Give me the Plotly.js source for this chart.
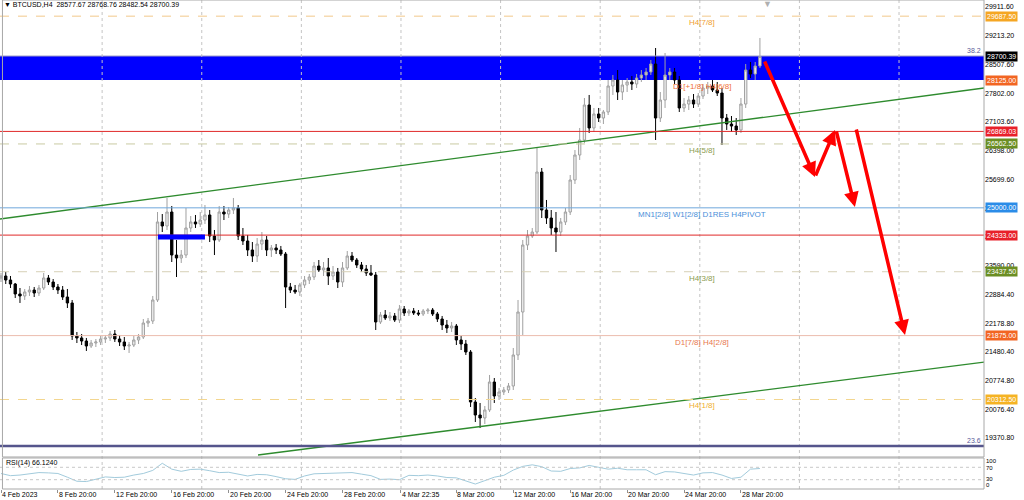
<!DOCTYPE html>
<html><head><meta charset="utf-8">
<script src="https://cdn.plot.ly/plotly-3.0.1.min.js"></script>
<style>html,body{margin:0;padding:0;background:#fff}#chart{width:1024px;height:500px}</style>
</head><body><div id="chart"></div>
<script>
// ---- Data (BTCUSD, candles of 8h) ----
const startTime = Date.UTC(2023, 1, 4, 20, 0);
const stepHours = 8;
const openP = [23284,23333,23235,23137,22893,22844,22942,22990,22917,23039,
23284,23186,23064,22990,22819,22673,21865,21817,21743,21621,
21694,21719,21792,21817,21914,21792,21719,21621,21645,21768,
21841,22183,22232,22746,24654,24556,24898,23846,23773,23846,
24507,24654,24605,24702,24825,24311,24213,24898,24849,24947,
24996,24311,24189,23969,23822,24115,24213,23969,24018,23969,
23871,23064,22990,22942,23113,23235,23308,23577,23480,23529,
23333,23431,23186,23529,23822,23724,23602,23504,23406,23357,
22208,22379,22306,22355,22257,22526,22428,22477,22428,22404,
22477,22501,22404,22281,22134,22061,22110,21768,21670,21474,
20251,19933,19860,20056,20740,20398,20496,20545,20643,21401,
22452,24091,24311,24409,25876,24947,24751,24507,24409,24654,
24898,25681,26292,26659,27515,26953,27295,27197,27344,27980,
28126,27833,28004,28078,28029,28175,28249,28322,28518,27197,
27637,28249,28322,28126,27442,27539,27637,27539,27735,27931,
27980,27882,27808,27197,27050,27001,26904,27539,28371,28273,
28469];
const highP = [23406,23431,23333,23162,23039,23015,23088,23064,23113,23406,
23357,23259,23137,23088,23015,22746,21963,21914,21817,21768,
21792,21865,21890,21988,22012,21890,21841,21719,21865,21914,
22281,22306,22844,24898,24849,25241,25045,24213,23969,24996,
24800,24825,24898,25069,24947,24458,25045,25045,25020,25241,
25069,24507,24336,24164,24262,24409,24311,24091,24115,24067,
23920,23162,23113,23162,23333,23382,23675,23724,23675,23773,
23577,23529,23675,23944,23920,23773,23675,23602,23602,23431,
22452,22501,22452,22428,22624,22599,22526,22550,22501,22526,
22550,22550,22452,22355,22257,22208,22159,21865,21768,21523,
20349,20227,20153,20912,20838,20594,20618,20716,21572,22746,
24213,24458,24507,26488,25974,25192,24947,24898,24751,24996,
25803,26414,26953,27686,27760,27442,27442,27393,28126,28249,
28371,28126,28175,28224,28273,28371,28420,28616,28909,27833,
28787,28420,28420,28224,27686,27735,27784,27808,28029,28078,
28126,28078,27931,27295,27246,27197,27686,28518,28567,28567,
29154];
const lowP = [23186,23137,23039,22795,22673,22746,22844,22819,22844,22990,
23113,22990,22893,22746,22550,21768,21694,21645,21499,21572,
21596,21645,21694,21743,21719,21621,21523,21450,21596,21670,
21792,22086,22159,22697,24409,24458,23675,23308,23651,23773,
24409,24507,24531,24605,24164,23846,24164,24702,24751,24849,
24213,24091,23822,23675,23675,23969,23822,23798,23871,23822,
22550,22917,22893,22844,23039,23137,23235,23431,23333,23113,
23235,23039,23064,23480,23675,23529,23431,23333,23333,22012,
22159,22257,22232,22208,22183,22355,22355,22379,22355,22355,
22404,22355,22208,22012,21939,21963,21645,21523,21401,20129,
19762,19615,19713,20007,20227,20300,20422,20471,20545,21278,
21890,23969,24262,24360,24751,24605,24336,23920,24311,24580,
24825,25583,26170,26586,26830,26855,27099,27050,27270,27760,
27637,27637,27833,27882,27931,28078,28126,28249,26659,27099,
27442,28126,28029,27344,27344,27393,27442,27466,27662,27784,
27833,27735,26537,26904,26855,26781,26830,27442,28175,28126,
28420];
const closeP = [23333,23235,23137,22893,22844,22942,22990,22917,23039,23284,
23186,23064,22990,22819,22673,21865,21817,21743,21621,21694,
21719,21792,21817,21914,21792,21719,21621,21645,21768,21841,
22183,22232,22746,24654,24556,24898,23846,23773,23846,24507,
24654,24605,24702,24825,24311,24213,24898,24849,24947,24996,
24311,24189,23969,23822,24115,24213,23969,24018,23969,23871,
23064,22990,22942,23113,23235,23308,23577,23480,23529,23333,
23431,23186,23529,23822,23724,23602,23504,23406,23357,22208,
22379,22306,22355,22257,22526,22428,22477,22428,22404,22477,
22501,22404,22281,22134,22061,22110,21768,21670,21474,20251,
19933,19860,20056,20740,20398,20496,20545,20643,21401,22452,
24091,24311,24409,25876,24947,24751,24507,24409,24654,24898,
25681,26292,26659,27515,26953,27295,27197,27344,27980,28126,
27833,28004,28078,28029,28175,28249,28322,28518,27197,27637,
28249,28322,28126,27442,27539,27637,27539,27735,27931,27980,
27882,27808,27197,27050,27001,26904,27539,28371,28273,28469,
28700.39];
const lastBar = [28577.67, 28768.76, 28482.54, 28700.39];

// RSI(14) read every second candle
const rsiVals = [50,43,45,48,53,52,50,38,25,24,31,39,37,38,45,50,60,83,64,57,
63,64,59,53,54,47,42,47,46,40,33,31,42,49,50,49,51,53,48,43,
31,32,30,44,43,45,42,37,36,27,16,27,38,44,61,73,78,72,58,57,
66,68,76,70,64,67,62,62,62,46,56,55,50,45,52,53,45,34,38,64,66.124];
const rsiLevelLabels = ['100','70','30','0'];

// Horizontal levels
const levelPrices = [29687.5, 26869.03, 26562.5, 25000, 24333, 23437.5, 21875, 20312.5];
const levelLineColors = ['#f2c88a','#e02828','#c9caa2','#6fa8dc','#e02828','#d6d0b6','#ecbcae','#f3d68e'];
const levelDash = ['dash','solid','dash','solid','solid','dash','solid','dash'];

const priceTags = [29687.5, 28700.39, 28125, 26869.03, 26562.5, 25000, 24333, 23437.5, 21875, 20312.5];
const priceTagColors = ['#f5a623','#000000','#f26522','#e8202a','#6b8e23','#2b8ce8','#e8202a','#6b8e23','#f26522','#f5b324'];

const mmTexts = ['H4[7/8]','D1[+1/8] H4[6/8]','H4[5/8]','MN1[2/8] W1[2/8] D1RES H4PIVOT','H4[3/8]','D1[7/8] H4[2/8]','H4[1/8]'];
const mmPrices = [29687.5, 28125, 26562.5, 25000, 23437.5, 21875, 20312.5];
const mmColors = ['#f0a030','#f07038','#8c9c50','#4a90d9','#8c9c50','#e87850','#f0b030'];
const mmTextTime = '2023-03-26 02:00';

const zonePrices = [28125, 28713];
const fiboPrices = [28713, 19175];
const fiboTexts = ['38.2','23.6'];
const supportBarTimes = ['2023-02-15 20:40', '2023-02-19 04:00'];
const supportBarPrices = [24225, 24345];

const upperTrendTimes = ['2023-02-04 18:19', '2023-04-14 21:55'];
const upperTrendPrices = [24727, 27931];
const lowerTrendTimes = ['2023-02-22 21:26', '2023-04-14 21:55'];
const lowerTrendPrices = [18955, 21229];

// projected path (arrows): [fromTime, fromPrice, toTime, toPrice]
const projection = [
  ['2023-03-30 10:53', 28616, '2023-04-03 00:48', 25754],
  ['2023-04-03 00:48', 25754, '2023-04-04 10:36', 26904],
  ['2023-04-04 12:19', 26904, '2023-04-05 20:14', 25020],
  ['2023-04-05 21:55', 26953, '2023-04-09 08:43', 21890]
];

const yTicks = [29911.6, 29213.2, 28507.6, 27802.0, 27103.6, 26398.0, 25699.6, 24994.0, 24288.4, 23590.0, 22884.4, 22178.8, 21480.4, 20774.8, 20076.4, 19370.8];
const xLabelTimes = ['2023-02-04 20:00','2023-02-08 20:00','2023-02-12 20:00','2023-02-16 20:00','2023-02-20 20:00','2023-02-24 20:00','2023-02-28 20:00','2023-03-04 22:35','2023-03-08 20:00','2023-03-12 20:00','2023-03-16 20:00','2023-03-20 20:00','2023-03-24 20:00','2023-03-28 20:00'];
const xLabelTexts = ['4 Feb 2023','8 Feb 20:00','12 Feb 20:00','16 Feb 20:00','20 Feb 20:00','24 Feb 20:00','28 Feb 20:00','4 Mar 22:35','8 Mar 20:00','12 Mar 20:00','16 Mar 20:00','20 Mar 20:00','24 Mar 20:00','28 Mar 20:00'];
const gridTimes = ['2023-02-11 22:35','2023-02-18 22:35','2023-02-25 22:35','2023-03-04 22:35','2023-03-11 22:35','2023-03-18 22:35','2023-03-25 22:35','2023-04-01 22:35','2023-04-08 22:35'];
const xRange = ['2023-02-04 18:19', '2023-04-14 21:55'];
const yRange = [18906, 30083];

// ---- Build ----
const fmt = ms => new Date(ms).toISOString().slice(0,16).replace('T',' ');
const times = openP.map((_, i) => fmt(startTime + i * stepHours * 3600000));
const rsiTimes = rsiVals.map((_, k) => times[2 * k]);

const FONT = 'Liberation Sans, Arial, sans-serif';
const mainBottom = 0.06544, rsiTop = 0.0634;

const traces = [
  {type:'scatter', mode:'lines', x: upperTrendTimes, y: upperTrendPrices, xaxis:'x', yaxis:'y',
   line:{color:'#2e8b2e', width:1.3}, hoverinfo:'skip'},
  {type:'scatter', mode:'lines', x: lowerTrendTimes, y: lowerTrendPrices, xaxis:'x', yaxis:'y',
   line:{color:'#2e8b2e', width:1.3}, hoverinfo:'skip'},
  {type:'candlestick', x: times, open: openP, high: highP, low: lowP, close: closeP,
   xaxis:'x', yaxis:'y', whiskerwidth:0,
   increasing:{line:{color:'#a0a0a0', width:1}, fillcolor:'#f0f0f0'},
   decreasing:{line:{color:'#000000', width:1}, fillcolor:'#000000'},
   hoverinfo:'skip'},
  {type:'scatter', mode:'lines', x: rsiTimes, y: rsiVals, xaxis:'x', yaxis:'y2',
   line:{color:'#a2cbdc', width:1}, hoverinfo:'skip'}
];

const shapes = [];
shapes.push({type:'rect', xref:'paper', x0:0, x1:1, yref:'y', y0:zonePrices[0], y1:zonePrices[1],
  fillcolor:'#0000ff', line:{width:0}, layer:'below'});
gridTimes.forEach(t => shapes.push({type:'line', xref:'x', x0:t, x1:t, yref:'paper', y0:0, y1:1,
  line:{color:'#c4c4c4', width:1, dash:'dot'}, layer:'below'}));
levelPrices.forEach((p, i) => shapes.push({type:'line', xref:'paper', x0:0, x1:1, yref:'y', y0:p, y1:p,
  line:{color:levelLineColors[i], width:1, dash:levelDash[i]}}));
shapes.push({type:'line', xref:'paper', x0:0, x1:1, yref:'y', y0:fiboPrices[0], y1:fiboPrices[0], line:{color:'#9a9ac8', width:1}});
shapes.push({type:'line', xref:'paper', x0:0, x1:1, yref:'y', y0:fiboPrices[1], y1:fiboPrices[1], line:{color:'#55558c', width:2.5}});
shapes.push({type:'rect', xref:'x', x0:supportBarTimes[0], x1:supportBarTimes[1], yref:'y', y0:supportBarPrices[0], y1:supportBarPrices[1],
  fillcolor:'#0000ff', line:{width:0}});
[70, 30].forEach(v => shapes.push({type:'line', xref:'paper', x0:0, x1:1, yref:'y2', y0:v, y1:v,
  line:{color:'#c8c8c8', width:1, dash:'dot'}}));
shapes.push({type:'rect', xref:'paper', x0:0.0025, x1:1, yref:'paper', y0:mainBottom, y1:1, line:{color:'#a8a8a8', width:1}});
shapes.push({type:'rect', xref:'paper', x0:0.0025, x1:1, yref:'paper', y0:0, y1:rsiTop, line:{color:'#a8a8a8', width:1}});

const ann = [];
ann.push({xref:'paper', yref:'paper', x:0.002, y:0.99, xanchor:'left', yanchor:'middle', showarrow:false,
  text:'▼ BTCUSD,H4  ' + lastBar.map(v => v.toFixed(2)).join(' '), font:{family:FONT, size:7, color:'#000'}});
ann.push({xref:'paper', yref:'paper', x:0.7795, y:1.006, xanchor:'center', yanchor:'top', showarrow:false,
  text:'▼', font:{family:FONT, size:9, color:'#b0b0b0'}});
mmTexts.forEach((t, i) => ann.push({xref:'x', yref:'y', x:mmTextTime, y:mmPrices[i], xanchor:'center', yanchor:'top',
  showarrow:false, text:t, font:{family:FONT, size:8, color:mmColors[i]}}));
fiboTexts.forEach((t, i) => ann.push({xref:'paper', yref:'y', x:0.999, y:fiboPrices[i], xanchor:'right', yanchor:'bottom',
  showarrow:false, text:t, font:{family:FONT, size:7, color:'#5a5a9a'}}));
priceTags.forEach((p, i) => ann.push({xref:'paper', yref:'y', x:1, y:p, xanchor:'left', yanchor:'middle', xshift:1,
  showarrow:false, text:p.toFixed(2), bgcolor:priceTagColors[i], borderpad:1,
  font:{family:FONT, size:7, color:'#ffffff'}}));
xLabelTimes.forEach((t, i) => ann.push({xref:'x', yref:'paper', x:t, y:-0.0105, xanchor:'left', yanchor:'middle', xshift:-1,
  showarrow:false, text:xLabelTexts[i], font:{family:FONT, size:7, color:'#000'}}));
ann.push({xref:'paper', yref:'paper', x:0.004, y:0.0532, xanchor:'left', yanchor:'middle', showarrow:false,
  text:'RSI(14) ' + rsiVals[rsiVals.length-1].toFixed(4), font:{family:FONT, size:7, color:'#000'}});
const rsiLabelY = [0.0565, 0.0430, 0.0205, 0.0075];
rsiLevelLabels.forEach((t, i) => ann.push({xref:'paper', yref:'paper', x:1, y:rsiLabelY[i],
  xanchor:'left', yanchor:'middle', xshift:1, borderpad:0, showarrow:false, text:t, font:{family:FONT, size:6, color:'#000'}}));
projection.forEach(s => ann.push({xref:'x', yref:'y', axref:'x', ayref:'y', x:s[2], y:s[3], ax:s[0], ay:s[1],
  showarrow:true, text:'', arrowhead:2, arrowsize:0.85, arrowwidth:3.5, arrowcolor:'#ff0000', standoff:0}));

const layout = {
  width:1024, height:500,
  margin:{l:0, r:40, t:0, b:11, pad:0},
  paper_bgcolor:'#ffffff', plot_bgcolor:'#ffffff',
  showlegend:false,
  font:{family:FONT, size:7, color:'#000'},
  xaxis:{type:'date', range:xRange, anchor:'y2', showgrid:false, zeroline:false, showline:false,
    rangeslider:{visible:false}, tickvals:xLabelTimes, ticks:'outside', ticklen:3, tickcolor:'#909090',
    showticklabels:false, automargin:false, fixedrange:true},
  yaxis:{domain:[mainBottom, 1], range:yRange, side:'right', anchor:'x', showgrid:false, zeroline:false,
    showline:false, tickvals:yTicks, tickformat:'.2f', ticks:'', tickfont:{family:FONT, size:7, color:'#000'},
    automargin:false, fixedrange:true},
  yaxis2:{domain:[0, rsiTop], range:[0, 100], anchor:'x', showgrid:false, zeroline:false, showline:false,
    showticklabels:false, ticks:'', automargin:false, fixedrange:true},
  shapes:shapes, annotations:ann
};

Plotly.newPlot('chart', traces, layout, {displayModeBar:false, staticPlot:true});
</script>
</body></html>
